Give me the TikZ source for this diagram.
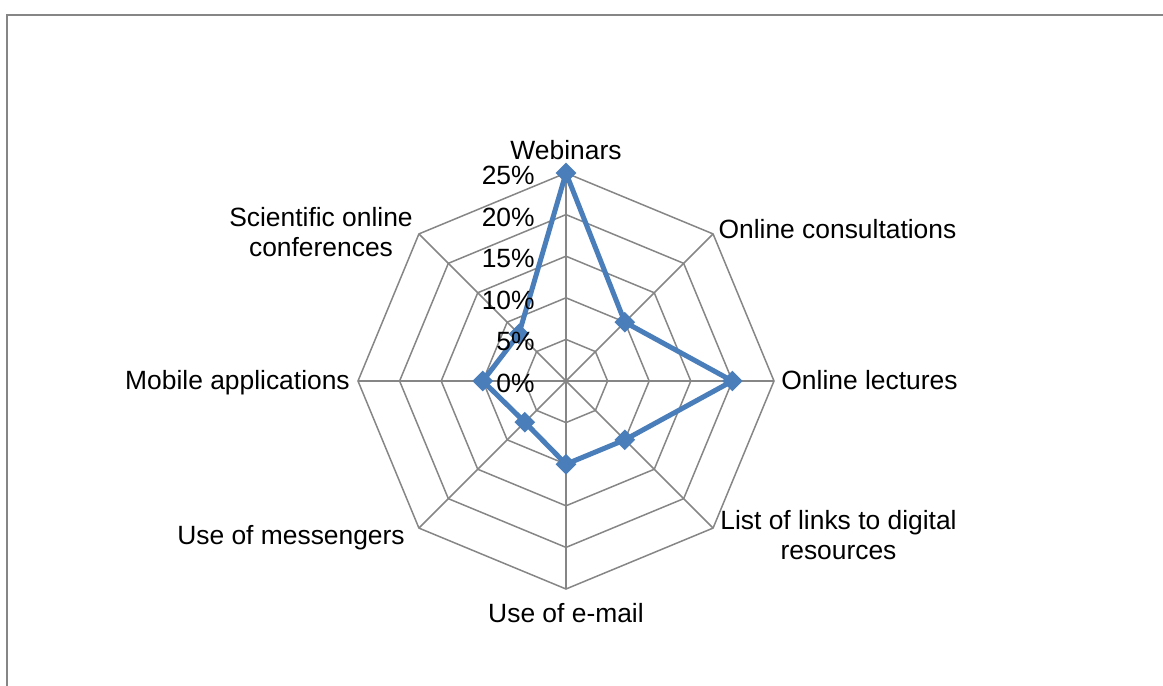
\documentclass[tikz,border=0pt]{standalone}
\usepackage{fontspec}
\setmainfont{Liberation Sans}
\usetikzlibrary{shapes.geometric}

\definecolor{gridgray}{RGB}{134,134,134}
\definecolor{seriesblue}{RGB}{74,126,187}

\tikzset{
  gridline/.style={draw=gridgray, line width=0.75pt},
  axislabel/.style={font=\fontsize{13.2}{15}\selectfont, align=center, inner sep=0pt},
  ticklabel/.style={font=\fontsize{13.2}{15}\selectfont, anchor=base east, inner sep=0pt},
  marker/.style={diamond, fill=seriesblue, inner sep=0pt, minimum size=10.5pt},
}

\begin{document}
\begin{tikzpicture}[x=0.5pt,y=0.5pt]
  \useasboundingbox (-566,-305) rectangle (597,381);
  % chart frame
  \draw[gridgray, line width=1pt] (-558.5,-305) -- (-558.5,366) -- (597,366);

  % rings and spokes
  \foreach \k in {1,...,5}
    \draw[gridline] (0:\k*41.6) \foreach \a in {45,90,...,315}{ -- (\a:\k*41.6)} -- cycle;
  \foreach \a in {0,45,...,315}
    \draw[gridline] (0,0) -- (\a:208);

  % series
  \foreach \name/\a/\v in {web/90/25, cons/45/10, lect/0/20, links/-45/10,
                           mail/-90/10, mess/-135/7, mob/180/10, sci/135/8}
    \coordinate (\name) at (\a:\v*8.32);
  \draw[seriesblue, line width=2.5pt, line join=round]
    (web) -- (cons) -- (lect) -- (links) -- (mail) -- (mess) -- (mob) -- (sci) -- cycle;
  \foreach \name in {web,cons,lect,links,mail,mess,mob,sci}
    \node[marker] (m-\name) at (\name) {};

  % value axis
  \foreach \k/\v in {0/0,1/5,2/10,3/15,4/20,5/25}
    \node[ticklabel] (t\k) at (-31,\k*41.6-11.5) {\v\%};

  % category labels
  \node[axislabel, anchor=base] (l-web) at (0,221) {Webinars};
  \node[axislabel, anchor=base] (l-cons) at (271.5,142) {Online consultations};
  \node[axislabel, anchor=base] (l-lect) at (303.5,-9) {Online lectures};
  \node[axislabel, anchor=north] (l-links) at (272.5,-128.5) {List of links to digital\\resources};
  \node[axislabel, anchor=base] (l-mail) at (0,-241) {Use of e-mail};
  \node[axislabel, anchor=base] (l-mess) at (-275,-163) {Use of messengers};
  \node[axislabel, anchor=base] (l-mob) at (-328.5,-9) {Mobile applications};
  \node[axislabel, anchor=north] (l-sci) at (-245,174.5) {Scientific online\\conferences};
\end{tikzpicture}
\end{document}
